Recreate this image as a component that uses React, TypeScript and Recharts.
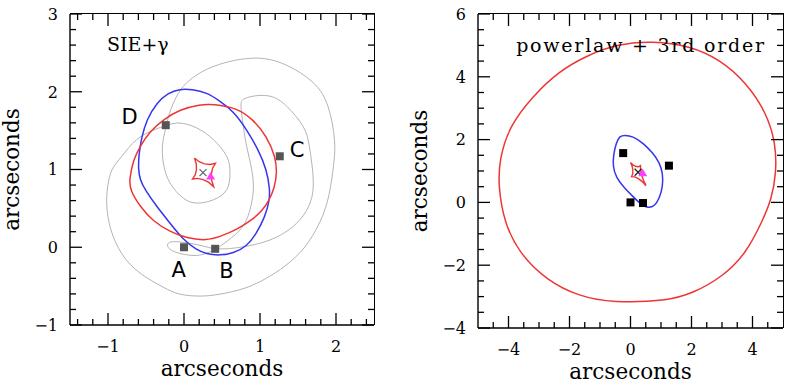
import { ScatterChart, Scatter, XAxis, YAxis, Label } from "recharts";

type XY = [number, number];

// ---------- left panel: SIE + external shear ----------
const sieCritical: XY[] = [
  [-0.72, 0.868], [-0.667, 1.126], [-0.579, 1.298], [-0.447, 1.492], [-0.272, 1.643],
  [-0.053, 1.772], [0.211, 1.837], [0.382, 1.843], [0.693, 1.794], [0.912, 1.643],
  [1.088, 1.427], [1.204, 1.165], [1.224, 0.959], [1.191, 0.765], [1.118, 0.597],
  [1.026, 0.468], [0.912, 0.365], [0.693, 0.223], [0.474, 0.137], [0.299, 0.085],
  [0.036, 0.116], [-0.184, 0.201], [-0.404, 0.33], [-0.579, 0.524], [-0.71, 0.739],
];
const sieCaustic: XY[] = [
  [0.138, 1.148], [0.199, 1.1], [0.27, 1.072], [0.344, 1.064], [0.414, 1.079],
  [0.376, 1.017], [0.36, 0.941], [0.364, 0.859], [0.391, 0.778], [0.326, 0.834],
  [0.253, 0.87], [0.179, 0.886], [0.112, 0.877], [0.148, 0.932], [0.164, 1.001],
  [0.161, 1.075], [0.138, 1.148],
];
const sieBlue: XY[] = [
  [-0.601, 0.997], [-0.595, 1.191], [-0.559, 1.41], [-0.491, 1.643], [-0.359, 1.858],
  [-0.211, 1.985], [-0.053, 2.036], [0.105, 2.03], [0.299, 1.991], [0.474, 1.879],
  [0.649, 1.75], [0.825, 1.514], [0.978, 1.255], [1.088, 0.997], [1.132, 0.739],
  [1.122, 0.585], [1.066, 0.395], [0.957, 0.181], [0.825, 0.008], [0.649, -0.077],
  [0.474, -0.106], [0.289, -0.086], [0.167, -0.035], [-0.009, 0.094], [-0.184, 0.31],
  [-0.359, 0.524], [-0.513, 0.739], [-0.579, 0.868],
];
// arrival-time contour through image D (outer lobe, then inner lobe)
const contourD: XY[] = [
  [-0.228, 1.569], [-0.204, 1.681], [-0.118, 1.901], [0.036, 2.116], [0.299, 2.288],
  [0.605, 2.39], [0.868, 2.43], [1.079, 2.423], [1.355, 2.339], [1.697, 2.12],
  [1.895, 1.81], [1.98, 1.385], [1.967, 1.049], [1.908, 0.675], [1.789, 0.326],
  [1.579, -0.009], [1.329, -0.241], [1.088, -0.396], [0.803, -0.525], [0.474, -0.603],
  [0.211, -0.628], [-0.053, -0.603], [-0.276, -0.512], [-0.579, -0.332], [-0.816, -0.086],
  [-0.961, 0.223], [-1.017, 0.546], [-1.0, 0.804], [-0.947, 0.997], [-0.82, 1.169],
  [-0.622, 1.385], [-0.404, 1.505], [-0.228, 1.569], [-0.053, 1.597], [0.167, 1.535],
  [0.386, 1.385], [0.562, 1.169], [0.605, 0.955], [0.562, 0.739], [0.386, 0.61],
  [0.167, 0.568], [-0.009, 0.632], [-0.184, 0.826], [-0.272, 1.084], [-0.28, 1.342],
  [-0.228, 1.569],
];
// contour through image B (lobe round C, then thin lobe round A)
const contourB: XY[] = [
  [0.417, -0.022], [0.55, -0.02], [0.737, 0.0], [1.132, 0.094], [1.483, 0.31],
  [1.658, 0.568], [1.701, 0.804], [1.684, 1.062], [1.645, 1.32], [1.566, 1.556],
  [1.351, 1.814], [1.132, 1.943], [0.908, 1.943], [0.78, 1.901], [0.75, 1.81],
  [0.78, 1.556], [0.825, 1.298], [0.891, 0.997], [0.912, 0.739], [0.868, 0.481],
  [0.737, 0.223], [0.5, 0.03], [0.417, -0.022], [0.276, 0.01], [0.118, 0.043],
  [-0.053, 0.068], [-0.171, 0.068], [-0.217, 0.03], [-0.171, -0.035], [-0.026, -0.086],
  [0.145, -0.106], [0.289, -0.08], [0.417, -0.022],
];

// ---------- right panel: power law + 3rd order ----------
const plCritical: XY[] = [
  [0.732, 5.144], [1.937, 4.984], [2.922, 4.559], [3.798, 3.815], [4.455, 2.856],
  [4.76, 1.898], [4.783, 0.939], [4.619, 0.086], [4.343, -0.553], [3.798, -1.617],
  [3.03, -2.364], [2.045, -2.895], [1.2, -3.141], [-0.581, -3.195], [-1.674, -3.003],
  [-2.768, -2.47], [-3.644, -1.617], [-4.137, -0.658], [-4.334, 0.511], [-4.301, 1.364],
  [-3.972, 2.428], [-3.207, 3.387], [-2.331, 4.185], [-1.454, 4.665], [-0.469, 5.038],
];
const plCaustic: XY[] = [
  [0.0, 1.268], [0.093, 1.185], [0.183, 1.142], [0.265, 1.135], [0.328, 1.173],
  [0.329, 1.043], [0.363, 0.881], [0.424, 0.707], [0.509, 0.533], [0.387, 0.663],
  [0.259, 0.757], [0.137, 0.814], [0.033, 0.821], [0.073, 0.906], [0.079, 1.017],
  [0.056, 1.141], [0.0, 1.268],
];
const plBlue: XY[] = [
  [-0.197, 2.147], [0.076, 2.109], [0.404, 1.898], [0.732, 1.578], [0.952, 1.259],
  [1.06, 0.939], [1.06, 0.511], [0.952, 0.141], [0.788, -0.128], [0.568, -0.179],
  [0.351, -0.073], [0.076, 0.192], [-0.197, 0.46], [-0.469, 0.78], [-0.581, 1.15],
  [-0.558, 1.524], [-0.469, 1.898], [-0.361, 2.109],
];

// observed images, lens centre and sources
const images: XY[] = [[0, 0], [0.41, -0.02], [1.26, 1.17], [-0.24, 1.57]];
const imageNames = ["A", "B", "C", "D"];
const imageLabelAt: XY[] = [[-0.07, -0.383], [0.559, -0.396], [1.487, 1.161], [-0.717, 1.591]];
const lensCentre: XY = [0.25, 0.96];
const sieSource: XY = [0.35, 0.91];
const plSource: XY = [0.4, 0.93];

// axes
const leftXDomain: XY = [-1.5, 2.5];
const leftYDomain: XY = [-1, 3];
const rightXDomain: XY = [-5, 5];
const rightYDomain: XY = [-4, 6];
const leftXTicks = [-1.4, -1.2, -1, -0.8, -0.6, -0.4, -0.2, 0, 0.2, 0.4, 0.6, 0.8, 1, 1.2, 1.4, 1.6, 1.8, 2, 2.2, 2.4];
const leftYTicks = [-1, -0.8, -0.6, -0.4, -0.2, 0, 0.2, 0.4, 0.6, 0.8, 1, 1.2, 1.4, 1.6, 1.8, 2, 2.2, 2.4, 2.6, 2.8, 3];
const leftXMajor = [-1, 0, 1, 2];
const leftYMajor = [-1, 0, 1, 2, 3];
const rightXTicks = [-4.5, -4, -3.5, -3, -2.5, -2, -1.5, -1, -0.5, 0, 0.5, 1, 1.5, 2, 2.5, 3, 3.5, 4, 4.5];
const rightYTicks = [-4, -3.5, -3, -2.5, -2, -1.5, -1, -0.5, 0, 0.5, 1, 1.5, 2, 2.5, 3, 3.5, 4, 4.5, 5, 5.5, 6];
const rightXMajor = [-4, -2, 0, 2, 4];
const rightYMajor = [-4, -2, 0, 2, 4, 6];

const RED = "#ee3535";
const BLUE = "#3535ee";
const GREY = "#b4b4b4";
const MAGENTA = "#ff3cff";
const SERIF = "DejaVu Serif, serif";
const FRAME = 1.4;
const CHART_W = 395;
const CHART_H = 384;
const TOP = 14;

const pts = (a: XY[]) => a.map(([x, y]) => ({ x, y }));
const noDot = () => <g />;
const fmt = (v: number) => (v < 0 ? "\u2212" + Math.abs(v) : String(v));
const isMajor = (v: number, majors: number[]) => majors.some((m) => Math.abs(m - v) < 1e-6);
const tickLen = (v: number, majors: number[]) => (isMajor(v, majors) ? 12 : 6);

// inward ticks on both opposite sides of the box; labels on the major ones
function tickFor(side: "bottom" | "left", majors: number[], plotW: number, plotH: number) {
  return (p: any) => {
    const { x, y, payload } = p;
    const v = payload.value;
    const major = isMajor(v, majors);
    const len = tickLen(v, majors);
    if (side === "bottom") {
      const top = y - plotH;
      return (
        <g>
          <line x1={x} y1={y} x2={x} y2={y - len} stroke="#000" strokeWidth={1.3} />
          <line x1={x} y1={top} x2={x} y2={top + len} stroke="#000" strokeWidth={1.3} />
          {major && (
            <text x={x} y={y + 27} textAnchor="middle" fontFamily={SERIF} fontSize={16} fill="#000">
              {fmt(v)}
            </text>
          )}
        </g>
      );
    }
    const right = x + plotW;
    return (
      <g>
        <line x1={x} y1={y} x2={x + len} y2={y} stroke="#000" strokeWidth={1.3} />
        <line x1={right} y1={y} x2={right - len} y2={y} stroke="#000" strokeWidth={1.3} />
        {major && (
          <text x={x - 12} y={y} dy="0.36em" textAnchor="end" fontFamily={SERIF} fontSize={16} fill="#000">
            {fmt(v)}
          </text>
        )}
      </g>
    );
  };
}

// joint: "linear" for cusped curves, "natural" for self-crossing contours, "basisClosed" for smooth loops
function line(data: XY[], color: string, width: number, joint: string) {
  return (
    <Scatter
      data={pts(data)}
      line={{ stroke: color, strokeWidth: width }}
      lineType="joint"
      lineJointType={joint as any}
      shape={noDot}
      fill="none"
      isAnimationActive={false}
    />
  );
}

const square = (color: string) => (p: any) => (
  <rect x={p.cx - 4} y={p.cy - 4} width={8} height={8} fill={color} />
);
const cross = (color: string) => (p: any) => (
  <g stroke={color} strokeWidth={1.2}>
    <line x1={p.cx - 3.5} y1={p.cy - 3.5} x2={p.cx + 3.5} y2={p.cy + 3.5} />
    <line x1={p.cx - 3.5} y1={p.cy + 3.5} x2={p.cx + 3.5} y2={p.cy - 3.5} />
  </g>
);
const triangle = (p: any) => (
  <polygon
    points={`${p.cx},${p.cy - 4.5} ${p.cx + 4.5},${p.cy + 3} ${p.cx - 4.5},${p.cy + 3}`}
    fill={MAGENTA}
  />
);

const bottomTitle = (p: any) => {
  const vb = p.viewBox;
  return (
    <text x={vb.x + vb.width / 2} y={vb.y + 51} textAnchor="middle" fontFamily={SERIF} fontSize={21.5} fill="#000">
      arcseconds
    </text>
  );
};
const leftTitle = (p: any) => {
  const vb = p.viewBox;
  const x = vb.x + vb.width - 51;
  const y = vb.y + vb.height / 2;
  return (
    <text x={x} y={y} transform={`rotate(-90 ${x} ${y})`} textAnchor="middle" fontFamily={SERIF} fontSize={21.5} fill="#000">
      arcseconds
    </text>
  );
};

interface PanelProps {
  xDomain: XY;
  yDomain: XY;
  xTicks: number[];
  yTicks: number[];
  xMajor: number[];
  yMajor: number[];
  yWidth: number;
  right: number;
  bottomHeight: number;
  children: any;
}

function Panel({ xDomain, yDomain, xTicks, yTicks, xMajor, yMajor, yWidth, right, bottomHeight, children }: PanelProps) {
  const axisLine = { stroke: "#000", strokeWidth: FRAME };
  const plotW = CHART_W - yWidth - right;
  const plotH = CHART_H - TOP - bottomHeight;
  return (
    <div style={{ position: "relative", width: CHART_W, height: CHART_H }}>
      <ScatterChart width={CHART_W} height={CHART_H} margin={{ top: TOP, right, bottom: 0, left: 0 }}>
        <XAxis type="number" dataKey="x" domain={xDomain} ticks={xTicks} interval={0}
          height={bottomHeight} tickSize={0} tickMargin={0} tickLine={false}
          axisLine={axisLine} tick={tickFor("bottom", xMajor, plotW, plotH)}>
          <Label content={bottomTitle} />
        </XAxis>
        <YAxis type="number" dataKey="y" domain={yDomain} ticks={yTicks} interval={0}
          width={yWidth} tickSize={0} tickMargin={0} tickLine={false}
          axisLine={axisLine} tick={tickFor("left", yMajor, plotW, plotH)}>
          <Label content={leftTitle} />
        </YAxis>
        {children}
      </ScatterChart>
      {/* top and right sides of the plot box */}
      <div
        style={{
          position: "absolute",
          left: yWidth,
          top: TOP - FRAME / 2,
          width: plotW + FRAME / 2,
          height: plotH + FRAME / 2,
          borderTop: `${FRAME}px solid #000`,
          borderRight: `${FRAME}px solid #000`,
          boxSizing: "border-box",
          pointerEvents: "none",
          zIndex: 2,
        }}
      />
    </div>
  );
}

function textAt(pos: XY, text: string, family: string, size: number, anchor: string, extra: any = {}) {
  return (
    <Scatter
      data={[{ x: pos[0], y: pos[1] }]}
      isAnimationActive={false}
      shape={(p: any) => (
        <text x={p.cx} y={p.cy} textAnchor={anchor} fontFamily={family} fontSize={size} fill="#000" {...extra}>
          {text}
        </text>
      )}
    />
  );
}

export default function App() {
  return (
    <div style={{ position: "absolute", left: 0, top: 0, width: 790, height: 384, background: "#fff" }}>
      <div style={{ position: "absolute", left: 0, top: 0 }}>
        <Panel xDomain={leftXDomain} yDomain={leftYDomain} xTicks={leftXTicks} yTicks={leftYTicks}
          xMajor={leftXMajor} yMajor={leftYMajor} yWidth={70} right={21} bottomHeight={59}>
          {line(contourD, GREY, 1, "natural")}
          {line(contourB, GREY, 1, "natural")}
          {line(sieBlue, BLUE, 1.5, "basisClosed")}
          {line(sieCritical, RED, 1.5, "basisClosed")}
          {line(sieCaustic, RED, 1.4, "linear")}
          <Scatter data={pts(images)} shape={square("#555")} isAnimationActive={false} />
          <Scatter data={pts([lensCentre])} shape={cross("#666")} isAnimationActive={false} />
          <Scatter data={pts([sieSource])} shape={triangle} isAnimationActive={false} />
          {imageNames.map((n, i) => (
            <Scatter key={n} data={[{ x: imageLabelAt[i][0], y: imageLabelAt[i][1] }]} isAnimationActive={false}
              shape={(p: any) => (
                <text x={p.cx} y={p.cy} textAnchor="middle" fontFamily="DejaVu Sans, sans-serif" fontSize={21} fill="#000">
                  {n}
                </text>
              )} />
          ))}
          {textAt([-1.013, 2.52], "SIE+\u03b3", SERIF, 19, "start")}
        </Panel>
      </div>
      <div style={{ position: "absolute", left: 395, top: 0 }}>
        <Panel xDomain={rightXDomain} yDomain={rightYDomain} xTicks={rightXTicks} yTicks={rightYTicks}
          xMajor={rightXMajor} yMajor={rightYMajor} yWidth={83} right={7} bottomHeight={56}>
          {line(plCritical, RED, 1.5, "basisClosed")}
          {line(plBlue, BLUE, 1.5, "basisClosed")}
          {line(plCaustic, RED, 1.4, "linear")}
          <Scatter data={pts(images)} shape={square("#000")} isAnimationActive={false} />
          <Scatter data={pts([lensCentre])} shape={cross("#222")} isAnimationActive={false} />
          <Scatter data={pts([plSource])} shape={triangle} isAnimationActive={false} />
          {textAt([-3.75, 4.805], "powerlaw + 3rd order", SERIF, 19, "start", { textLength: 248, lengthAdjust: "spacing" })}
        </Panel>
      </div>
    </div>
  );
}
